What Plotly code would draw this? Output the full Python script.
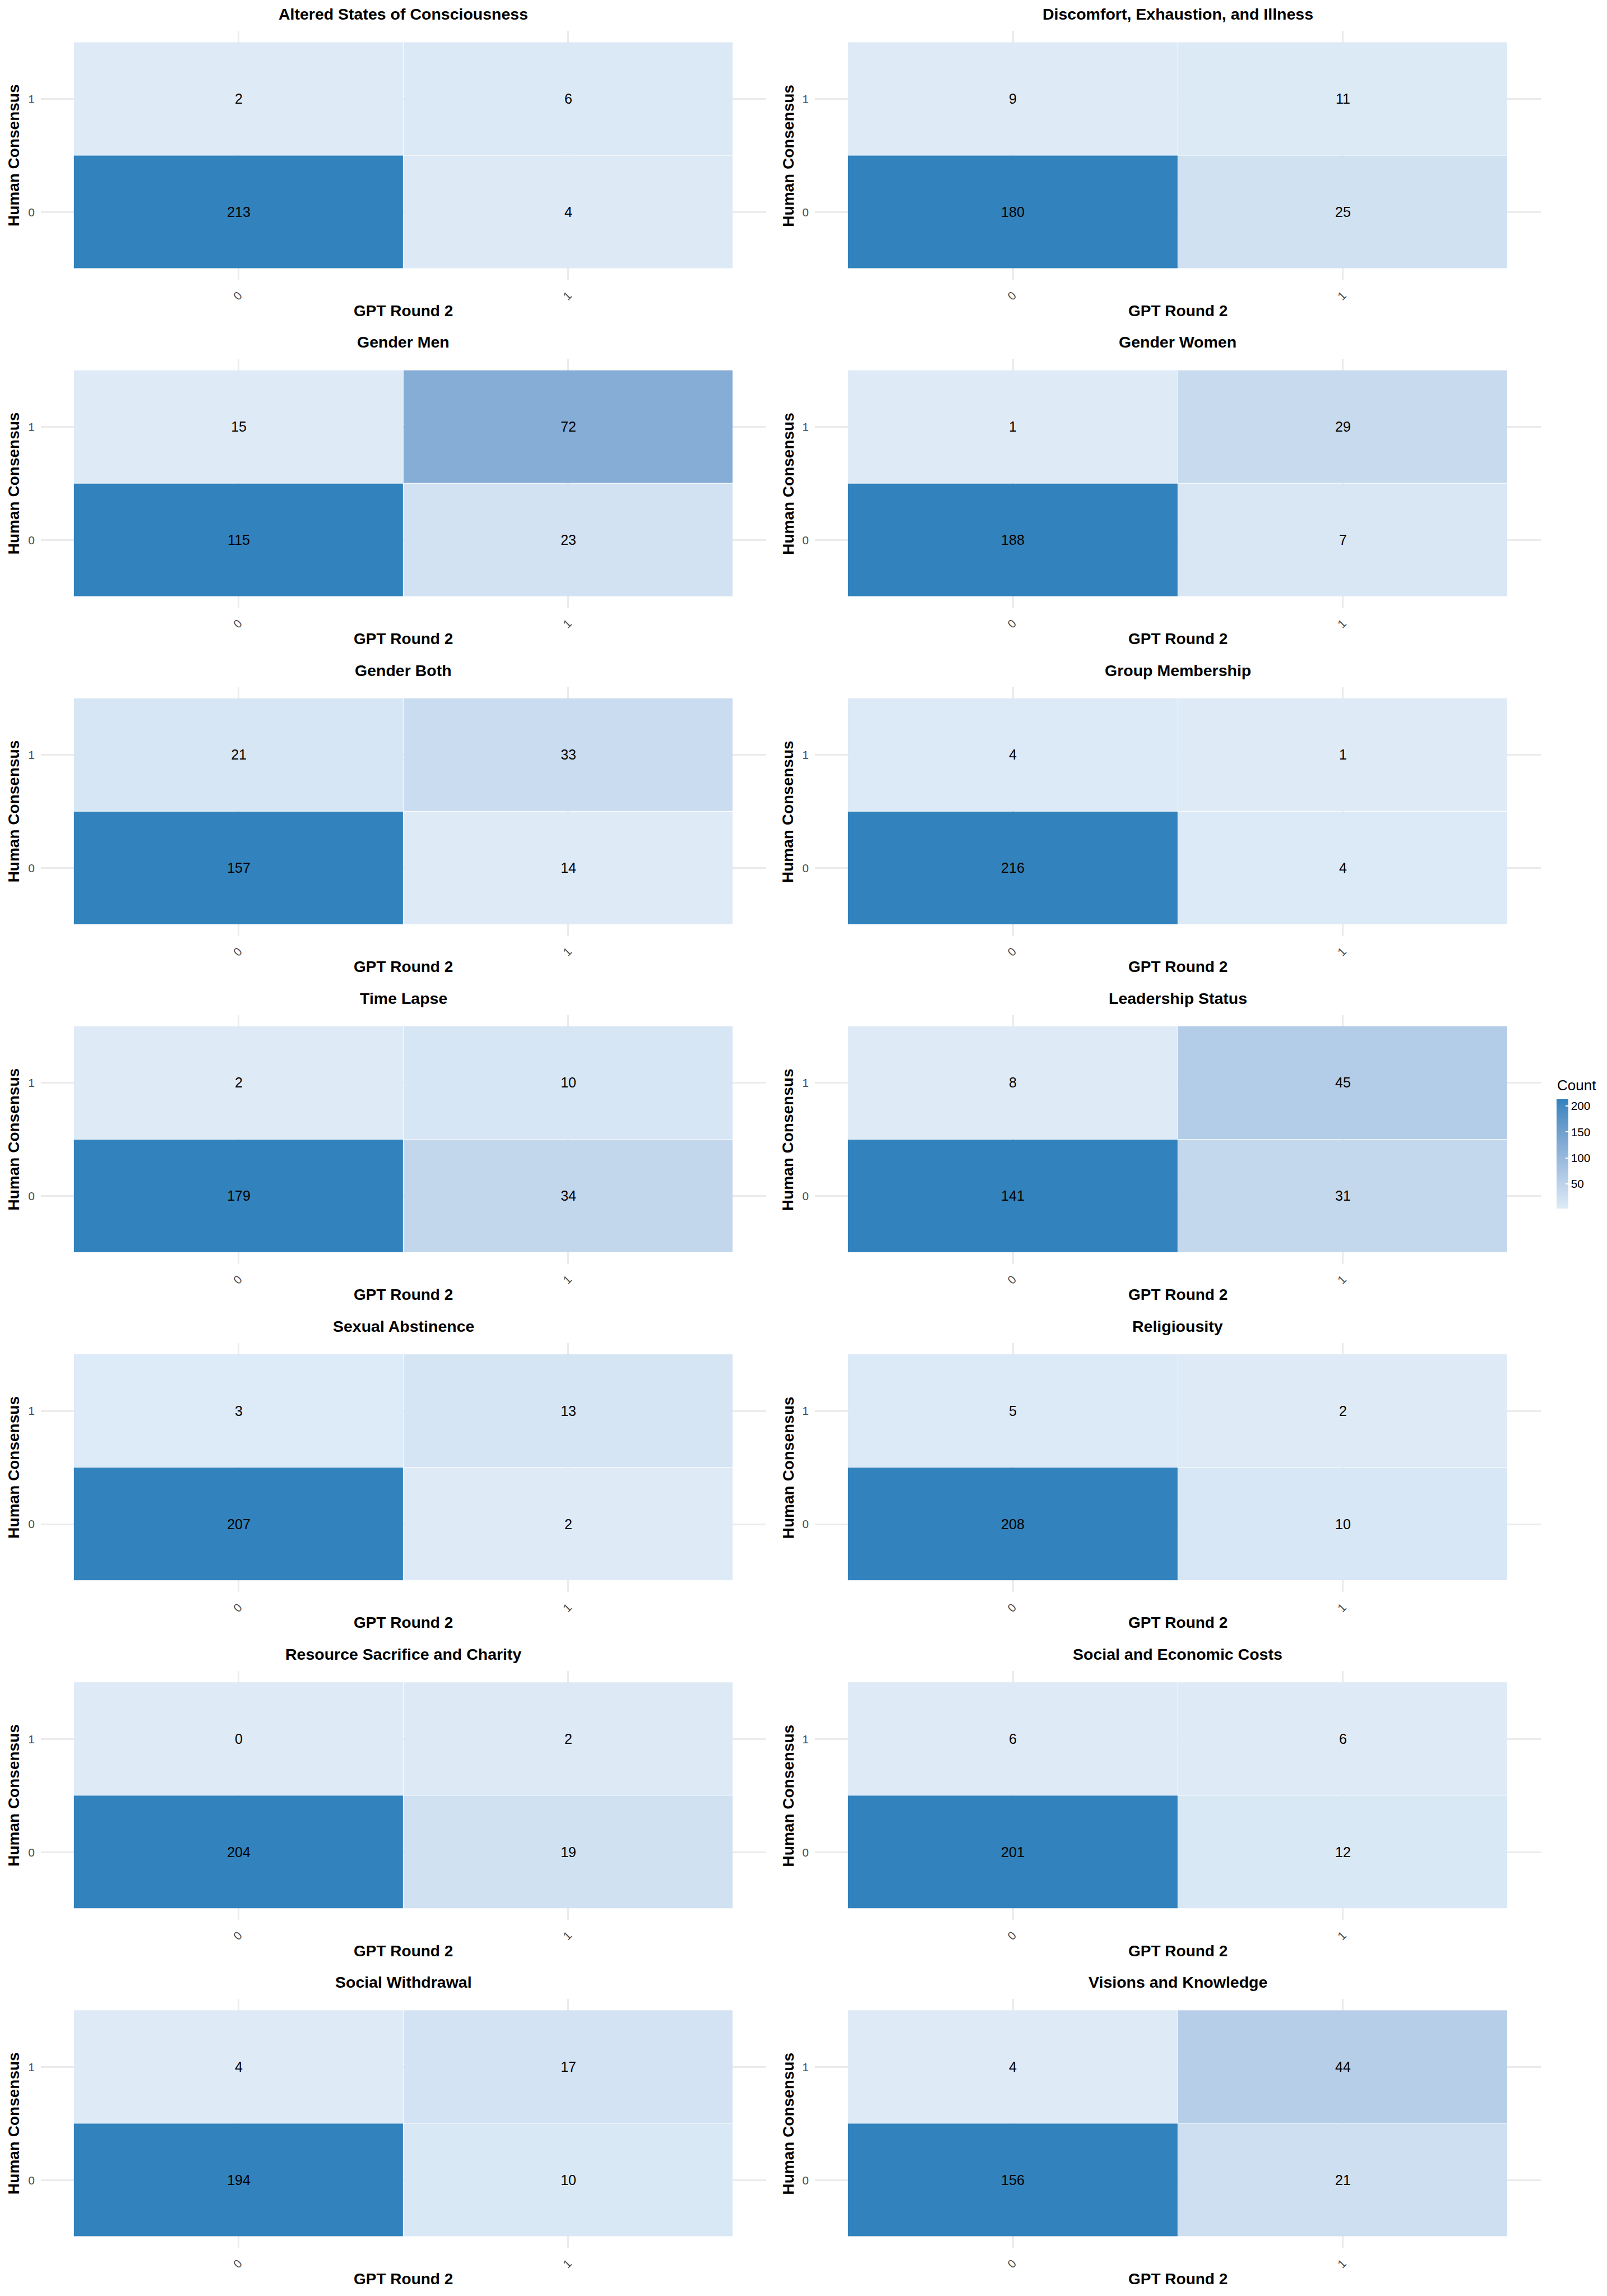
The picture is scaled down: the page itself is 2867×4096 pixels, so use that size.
import plotly.graph_objects as go

# ---------------- data ----------------
panel_titles = [
    "Altered States of Consciousness", "Discomfort, Exhaustion, and Illness",
    "Gender Men", "Gender Women",
    "Gender Both", "Group Membership",
    "Time Lapse", "Leadership Status",
    "Sexual Abstinence", "Religiousity",
    "Resource Sacrifice and Charity", "Social and Economic Costs",
    "Social Withdrawal", "Visions and Knowledge",
]
gpt_levels = ["0", "1"]      # x axis: GPT Round 2
human_levels = ["0", "1"]    # y axis: Human Consensus
# counts: human=0 / gpt=0, human=0 / gpt=1, human=1 / gpt=0, human=1 / gpt=1
h0_g0 = [213, 180, 115, 188, 157, 216, 179, 141, 207, 208, 204, 201, 194, 156]
h0_g1 = [4, 25, 23, 7, 14, 4, 34, 31, 2, 10, 19, 12, 10, 21]
h1_g0 = [2, 9, 15, 1, 21, 4, 2, 8, 3, 5, 0, 6, 4, 4]
h1_g1 = [6, 11, 72, 29, 33, 1, 10, 45, 13, 2, 2, 6, 17, 44]
colorbar_ticks = [50, 100, 150, 200]
legend_panel = 0   # the single legend shown belongs to the first panel's scale

# ---------------- colour scale (Lab interpolation like ggplot) ----------------
def _hex2rgb(h):
    h = h.lstrip("#")
    return [int(h[i:i + 2], 16) / 255 for i in (0, 2, 4)]

def _lin(c):
    return c / 12.92 if c <= 0.04045 else ((c + 0.055) / 1.055) ** 2.4

def _gam(c):
    c = max(0.0, min(1.0, c))
    return 12.92 * c if c <= 0.0031308 else 1.055 * c ** (1 / 2.4) - 0.055

WP = (0.95047, 1.0, 1.08883)

def _rgb2lab(rgb):
    r, g, b = [_lin(c) for c in rgb]
    X = 0.4124 * r + 0.3576 * g + 0.1805 * b
    Y = 0.2126 * r + 0.7152 * g + 0.0722 * b
    Z = 0.0193 * r + 0.1192 * g + 0.9505 * b
    def f(t):
        return t ** (1 / 3) if t > 0.008856 else 7.787 * t + 16 / 116
    fx, fy, fz = f(X / WP[0]), f(Y / WP[1]), f(Z / WP[2])
    return (116 * fy - 16, 500 * (fx - fy), 200 * (fy - fz))

def _lab2rgb(lab):
    L, a, b = lab
    fy = (L + 16) / 116
    fx = fy + a / 500
    fz = fy - b / 200
    def fi(t):
        return t ** 3 if t ** 3 > 0.008856 else (t - 16 / 116) / 7.787
    X, Y, Z = fi(fx) * WP[0], fi(fy) * WP[1], fi(fz) * WP[2]
    r = 3.2406 * X - 1.5372 * Y - 0.4986 * Z
    g = -0.9689 * X + 1.8758 * Y + 0.0415 * Z
    bb = 0.0557 * X - 0.2040 * Y + 1.0570 * Z
    return "#%02x%02x%02x" % tuple(int(round(_gam(c) * 255)) for c in (r, g, bb))

low_col, high_col = "#deebf7", "#3182bd"
la, lb = _rgb2lab(_hex2rgb(low_col)), _rgb2lab(_hex2rgb(high_col))
n_stops = 11
colorscale = []
for k in range(n_stops):
    t = k / (n_stops - 1)
    colorscale.append([t, _lab2rgb(tuple(la[j] + (lb[j] - la[j]) * t for j in range(3)))])

# ---------------- layout geometry (reference pixel space 4200 x 6000) ----------------
FW, FH = 4200.0, 6000.0
PITCH = FH / 7
COLS = [(107, 2002), (2130, 4027)]
YTITLE_X = [36, 2060]
FONT = "Liberation Sans, Arial, Helvetica, sans-serif"

def px(v):
    return v / FW

def py(v):
    return 1 - v / FH

fig = go.Figure()
annotations = []

for i, title in enumerate(panel_titles):
    r, c = divmod(i, 2)
    sfx = "" if i == 0 else str(i + 1)
    x0, x1 = COLS[c]
    ytop = 81 + r * PITCH
    ybot = 732 + r * PITCH
    z = [[h0_g0[i], h0_g1[i]], [h1_g0[i], h1_g1[i]]]
    vals = [h0_g0[i], h0_g1[i], h1_g0[i], h1_g1[i]]
    hm = dict(
        x=gpt_levels, y=human_levels, z=z,
        colorscale=colorscale, zmin=min(vals), zmax=max(vals),
        xaxis="x" + sfx, yaxis="y" + sfx,
        texttemplate="%{z}",
        textfont=dict(family=FONT, size=25, color="black"),
        xgap=1, ygap=1, hoverinfo="skip",
        showscale=(i == legend_panel),
    )
    if i == legend_panel:
        hm["colorbar"] = dict(
            x=px(4068), xanchor="left", xpad=0,
            y=py((2873 + 3158) / 2), yanchor="middle", ypad=0,
            thickness=20.5, thicknessmode="pixels",
            len=(3158 - 2873) * 0.6826, lenmode="pixels",
            outlinewidth=0,
            tickvals=colorbar_ticks,
            ticks="inside", ticklen=5, tickcolor="white", tickwidth=1.5,
            tickfont=dict(family=FONT, size=20.7, color="black"),
        )
    fig.add_trace(go.Heatmap(**hm))
    axis_common = dict(
        range=[-0.6, 1.6], showgrid=True, gridcolor="#EBEBEB", gridwidth=3,
        zeroline=False, showline=False, ticks="",
        tickfont=dict(family=FONT, size=21, color="#4D4D4D"),
        type="category", fixedrange=True,
    )
    fig.layout["xaxis" + sfx] = dict(
        axis_common, domain=[px(x0), px(x1)], anchor="y" + sfx,
        tickangle=-45, ticklabelstandoff=10,
    )
    fig.layout["yaxis" + sfx] = dict(
        axis_common, domain=[py(ybot), py(ytop)], anchor="x" + sfx,
        ticklabelstandoff=10,
    )
    cx = px((x0 + x1) / 2)
    annotations.append(dict(
        text=title, x=cx, y=py(37 + r * PITCH), xref="paper", yref="paper",
        xanchor="center", yanchor="middle", showarrow=False,
        font=dict(family=FONT, size=28.5, color="black", weight="bold"),
    ))
    annotations.append(dict(
        text="GPT Round 2", x=cx, y=py(812 + r * PITCH), xref="paper", yref="paper",
        xanchor="center", yanchor="middle", showarrow=False,
        font=dict(family=FONT, size=28, color="black", weight="bold"),
    ))
    annotations.append(dict(
        text="Human Consensus", x=px(YTITLE_X[c]), y=py((ytop + ybot) / 2),
        xref="paper", yref="paper", xanchor="center", yanchor="middle",
        textangle=-90, showarrow=False,
        font=dict(family=FONT, size=28, color="black", weight="bold"),
    ))

# legend title
annotations.append(dict(
    text="Count", x=px(4066), y=py(2836), xref="paper", yref="paper",
    xanchor="left", yanchor="middle", showarrow=False,
    font=dict(family=FONT, size=26, color="black"),
))

fig.update_layout(
    width=2867, height=4096, autosize=False,
    margin=dict(l=0, r=0, t=0, b=0, pad=0),
    paper_bgcolor="white", plot_bgcolor="white",
    font=dict(family=FONT),
    annotations=annotations,
    showlegend=False,
)

fig.write_html("out.html", config={"displayModeBar": False})
